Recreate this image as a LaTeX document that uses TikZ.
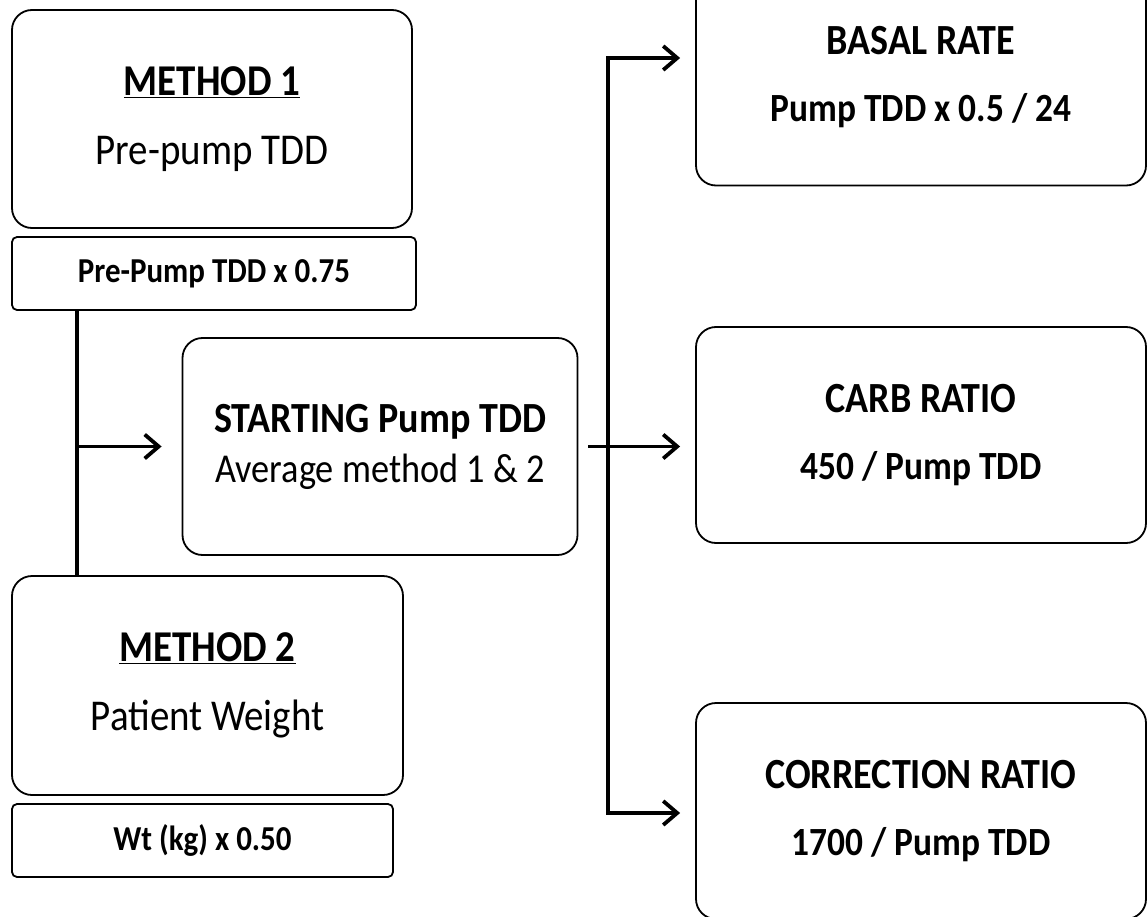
\documentclass[tikz,border=0pt]{standalone}
\usepackage{fontspec}
\setmainfont{Carlito}[FakeStretch=0.885]
\usetikzlibrary{arrows.meta}

\begin{document}
\begin{tikzpicture}[x=1pt, y=-1pt,
        bigbox/.style={draw, line width=1.8pt, rounded corners=20pt,
                       align=center, inner sep=0pt},
        calc/.style={draw, line width=1.8pt, rounded corners=5pt, inner sep=0pt,
                     font=\bfseries\fontsize{35}{40}\selectfont},
        result/.style={bigbox, minimum width=450pt, minimum height=216pt,
                       font=\bfseries\fontsize{40}{67}\selectfont},
        link/.style={line width=3.8pt},
        arr/.style={link, -{Straight Barb[length=14pt, width=24pt]}}
      ]
      \useasboundingbox (0,0) rectangle (1147,917);

      \node[bigbox, minimum width=400pt, minimum height=218pt,
            font=\fontsize{44}{69}\selectfont] (m1) at (212,119)
            {\textbf{\underline{METHOD 1}}\\Pre-pump TDD};
      \node[calc, minimum width=404pt, minimum height=73pt] (m1f) at (214,273.5) {Pre-Pump TDD x 0.75};
      \node[bigbox, minimum width=391pt, minimum height=219pt,
            font=\fontsize{44}{69}\selectfont] (m2) at (207.5,685.5)
            {\textbf{\underline{METHOD 2}}\\Patient Weight};
      \node[calc, minimum width=381pt, minimum height=73pt] (m2f) at (202.5,840.5) {Wt (kg) x 0.50};

      \node[bigbox, minimum width=395pt, minimum height=217pt,
            font=\fontsize{41}{50}\selectfont] (start) at (380,446.5)
            {{\bfseries\fontsize{43}{50}\selectfont STARTING Pump TDD}\\Average method 1 \& 2};

      \node[result] (basal) at (921,77.5) {{\fontsize{43}{67}\selectfont BASAL RATE}\\Pump TDD x 0.5 / 24};
      \node[result] (carb) at (921,435) {{\fontsize{43}{67}\selectfont CARB RATIO}\\450 / Pump TDD};
      \node[result] (corr) at (921,811) {{\fontsize{43}{67}\selectfont CORRECTION RATIO}\\1700 / Pump TDD};

      \coordinate (lj) at (77,446.5);
      \coordinate (rtop) at (608,58);
      \coordinate (rbot) at (608,813);

      \draw[link] (m1f.south -| lj) -- (m2.north -| lj);
      \draw[arr, shorten >=20pt] (lj) -- (start);
      \draw[arr, shorten <=10pt, shorten >=15pt] (start.east) -- (start.east -| carb.west);
      \draw[arr, shorten >=15pt] (rbot) -- (rtop) -- (rtop -| basal.west);
      \draw[arr, shorten >=15pt] (rtop) -- (rbot) -- (rbot -| corr.west);
    \end{tikzpicture}
\end{document}
